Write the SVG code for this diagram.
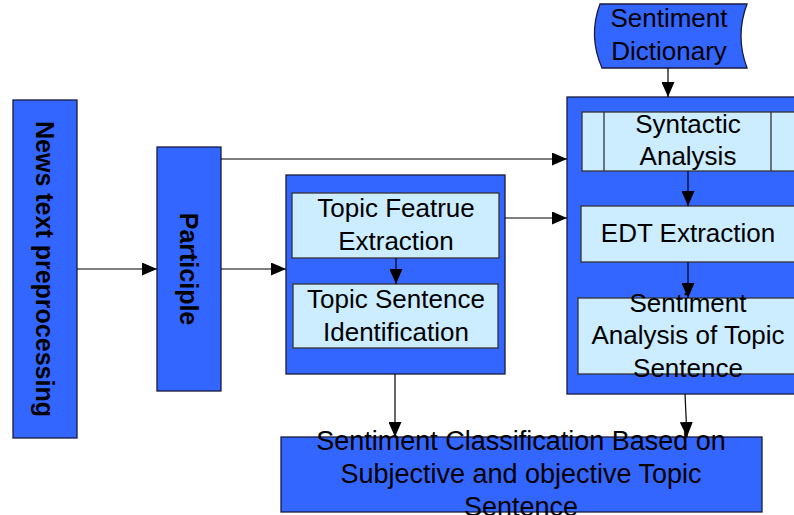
<svg xmlns="http://www.w3.org/2000/svg" width="794" height="515" viewBox="0 0 794 515">
<defs>
<style>
.blue{fill:#3366FF;stroke:#1a1a40;stroke-width:1.3}
.lb{fill:#CCECFF;stroke:#333333;stroke-width:1.3}
.t{font-family:"Liberation Sans",Arial,sans-serif;font-size:26px;fill:#000;text-anchor:middle}
.tb{font-family:"Liberation Sans",Arial,sans-serif;font-size:25px;font-weight:bold;fill:#000;text-anchor:middle}
.c{stroke:#000;stroke-width:1.2;fill:none;marker-end:url(#ah)}
</style>
<marker id="ah" viewBox="0 0 15 13" refX="15" refY="6.5" markerWidth="15" markerHeight="13" markerUnits="userSpaceOnUse" orient="auto">
<path d="M0,0 L15,6.5 L0,13 Z" fill="#000"/>
</marker>
</defs>
<rect width="794" height="515" fill="#fff"/>
<g id="news">
<rect class="blue" x="13" y="100" width="64" height="338"/>
<text class="tb" transform="translate(36,269) rotate(90)">News text preprocessing</text>
</g>
<g id="participle">
<rect class="blue" x="157" y="147" width="64" height="244"/>
<text class="tb" transform="translate(180,269) rotate(90)">Participle</text>
</g>
<g id="topic-group">
<rect class="blue" x="286" y="175" width="219" height="199"/>
</g>
<g id="topic-feature">
<rect class="lb" x="292" y="193" width="207" height="65"/>
<text class="t" x="396" y="217">Topic Featrue</text>
<text class="t" x="396" y="250">Extraction</text>
</g>
<g id="topic-sentence">
<rect class="lb" x="293" y="284" width="205" height="64"/>
<text class="t" x="396" y="308">Topic Sentence</text>
<text class="t" x="396" y="341">Identification</text>
</g>
<g id="right-group">
<rect class="blue" x="567" y="97" width="240" height="297"/>
</g>
<g id="dictionary">
<path class="blue" d="M600,4 L747,4 Q735,36 747,68 L602,68 Q588,36 600,4 Z"/>
<text class="t" x="669" y="27">Sentiment</text>
<text class="t" x="669" y="60">Dictionary</text>
</g>
<g id="syntactic">
<rect class="lb" x="582" y="112" width="225" height="59"/>
<line x1="604" y1="112" x2="604" y2="171" stroke="#333" stroke-width="1.3"/>
<line x1="771" y1="112" x2="771" y2="171" stroke="#333" stroke-width="1.3"/>
<text class="t" x="688" y="133">Syntactic</text>
<text class="t" x="688" y="165">Analysis</text>
</g>
<g id="edt">
<rect class="lb" x="581" y="206" width="226" height="56"/>
<text class="t" x="688" y="242">EDT Extraction</text>
</g>
<g id="sentiment-analysis">
<rect class="lb" x="578" y="298" width="229" height="76"/>
<text class="t" x="688" y="312">Sentiment</text>
<text class="t" x="688" y="344">Analysis of Topic</text>
<text class="t" x="688" y="377">Sentence</text>
</g>
<g id="classification">
<rect class="blue" x="281" y="437" width="481" height="75"/>
<text class="t" x="521" y="450" style="font-size:27px">Sentiment Classification Based on</text>
<text class="t" x="521" y="483" style="font-size:27px">Subjective and objective Topic</text>
<text class="t" x="521" y="516" style="font-size:27px">Sentence</text>
</g>
<g id="connectors">
<line class="c" x1="77" y1="269" x2="157" y2="269"/>
<line class="c" x1="221" y1="269" x2="286" y2="269"/>
<line class="c" x1="221" y1="159" x2="567" y2="159"/>
<line class="c" x1="505" y1="218" x2="567" y2="218"/>
<line class="c" x1="396" y1="258" x2="396" y2="284"/>
<line class="c" x1="668" y1="68" x2="668" y2="97"/>
<line class="c" x1="688" y1="171" x2="688" y2="206"/>
<line class="c" x1="688" y1="262" x2="688" y2="298"/>
<line class="c" x1="395" y1="374" x2="395" y2="437"/>
<line class="c" x1="685" y1="394" x2="687" y2="437"/>
</g>
</svg>
